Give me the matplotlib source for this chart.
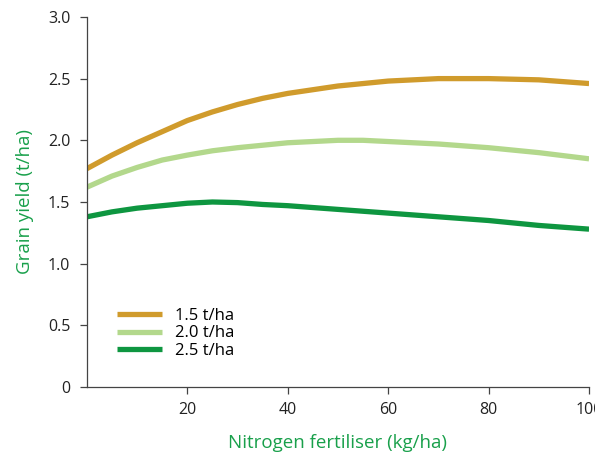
import matplotlib
matplotlib.use("Agg")
from matplotlib import pyplot as plt
from matplotlib.ticker import FuncFormatter

# nitrogen rate (kg/ha) and grain yield (t/ha)
n_rate = [0, 5, 10, 15, 20, 25, 30, 35, 40, 45, 50, 55, 60, 65, 70, 75, 80, 85, 90, 95, 100]
yield_15 = [1.77, 1.88, 1.98, 2.07, 2.16, 2.23, 2.29, 2.34, 2.38, 2.41, 2.44,
            2.46, 2.48, 2.49, 2.50, 2.50, 2.50, 2.495, 2.49, 2.475, 2.46]
yield_20 = [1.62, 1.71, 1.78, 1.84, 1.88, 1.915, 1.94, 1.96, 1.98, 1.99, 2.00,
            2.00, 1.99, 1.98, 1.97, 1.955, 1.94, 1.92, 1.90, 1.875, 1.85]
yield_25 = [1.38, 1.42, 1.45, 1.47, 1.49, 1.50, 1.495, 1.48, 1.47, 1.455, 1.44,
            1.425, 1.41, 1.395, 1.38, 1.365, 1.35, 1.33, 1.31, 1.295, 1.28]
labels = ['1.5 t/ha', '2.0 t/ha', '2.5 t/ha']
colors = ['#D09B2C', '#B3D88C', '#0E9640']
label_green = '#19A04B'

plt.rcParams['font.family'] = ['Open Sans', 'DejaVu Sans']

fig = plt.figure(figsize=(5.95, 4.57), dpi=100)
ax = fig.add_axes([0.146, 0.153, 0.844, 0.81])

for ys, lab, c in zip([yield_15, yield_20, yield_25], labels, colors):
    ax.plot(n_rate, ys, color=c, lw=3.8, label=lab, solid_capstyle='butt',
            solid_joinstyle='round')

ax.set_xlim(0, 100)
ax.set_ylim(0, 3.0)
ax.set_xticks([20, 40, 60, 80, 100])
ax.set_yticks([0, 0.5, 1.0, 1.5, 2.0, 2.5, 3.0])
ax.yaxis.set_major_formatter(FuncFormatter(lambda v, p: '0' if v == 0 else '%.1f' % v))

for s in ['top', 'right']:
    ax.spines[s].set_visible(False)
for s in ['left', 'bottom']:
    ax.spines[s].set_color('#444444')
    ax.spines[s].set_linewidth(0.9)
ax.tick_params(direction='out', length=5, width=0.9, color='#444444',
               labelsize=11.5, labelcolor='#222222')
ax.tick_params(axis='y', pad=7)
ax.tick_params(axis='x', pad=6)

ax.set_xlabel('Nitrogen fertiliser (kg/ha)', color=label_green, fontsize=13.5, labelpad=11)
ax.set_ylabel('Grain yield (t/ha)', color=label_green, fontsize=13.5, labelpad=10)

leg = ax.legend(loc='lower left', bbox_to_anchor=(0.03, 0.035), frameon=False,
                fontsize=12, handlelength=2.7, handletextpad=0.8, labelspacing=0.1)

fig.savefig('out.png', dpi=100)
